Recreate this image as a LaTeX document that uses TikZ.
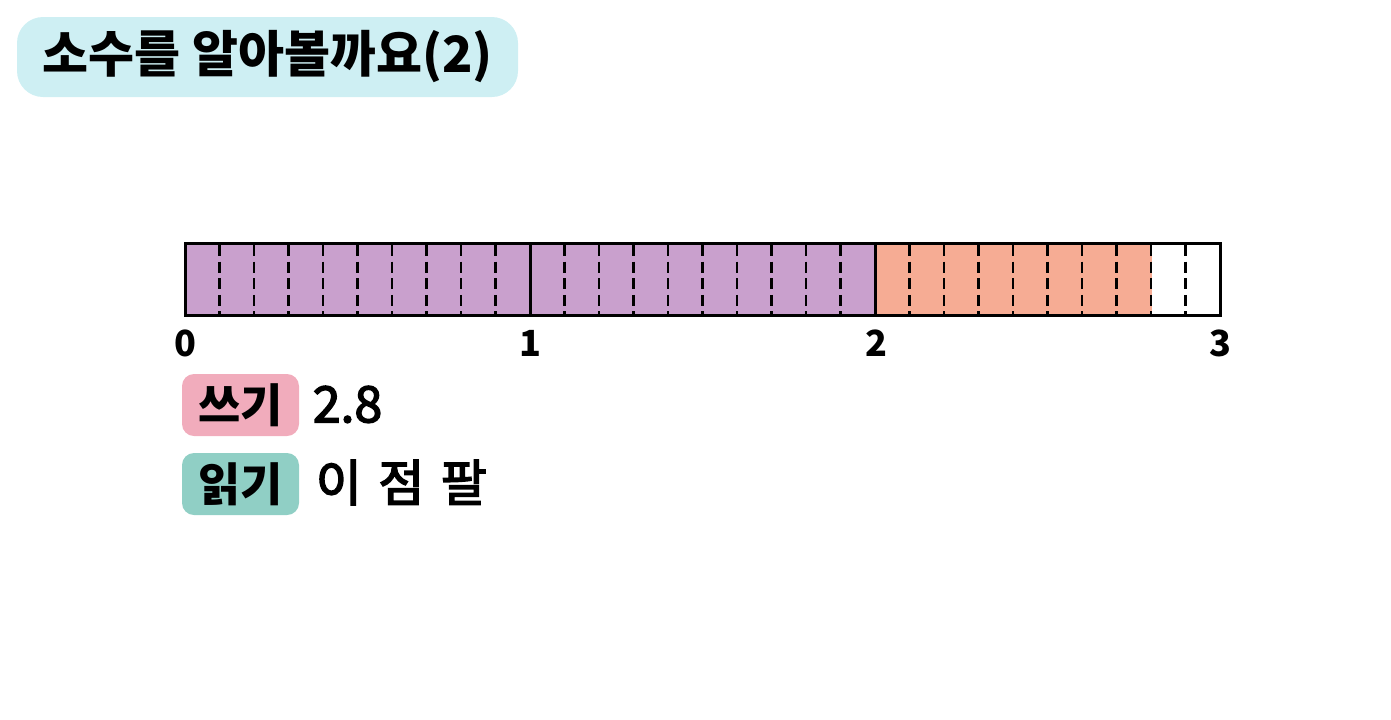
\documentclass[tikz,border=0pt]{standalone}
\usepackage{fontspec}
\newfontfamily\kr{Noto Sans CJK KR}
\newfontfamily\krmed[FakeBold=3]{Noto Sans CJK KR}
\definecolor{titlebg}{RGB}{206,239,243}
\definecolor{barpurple}{RGB}{201,160,205}
\definecolor{barorange}{RGB}{246,172,148}
\definecolor{writepink}{RGB}{241,172,188}
\definecolor{readteal}{RGB}{144,207,197}
\begin{document}
\begin{tikzpicture}[x=0.5pt,y=-0.5pt,
   tick/.style={font=\kr\bfseries\fontsize{18}{18}\selectfont},
   tag/.style={rounded corners=6pt, minimum width=58.5pt, minimum height=31pt,
      inner sep=0pt, font=\kr\bfseries\fontsize{23}{23}\selectfont},
   answer/.style={inner sep=0pt, anchor=base west, font=\krmed\fontsize{25}{25}\selectfont},
   tenth/.style={line width=1.4pt, dash pattern=on 5.5pt off 2.8pt, dash phase=-1pt}]
   \useasboundingbox (0,0) rectangle (1391,719);
   %% 수직선: 0에서 3까지, 한 칸은 0.1
   \node[fill=titlebg, rounded corners=13pt, minimum width=250.5pt, minimum height=40pt,
      inner sep=0pt, font=\kr\bfseries\fontsize{25}{25}\selectfont]
      (title) at (267.5,57) {소수를 알아볼까요(2)};
   
   \coordinate (Zero) at (185,243);
   \coordinate (One) at (530,243);
   \coordinate (Two) at (876,243);
   \coordinate (Three) at (1220,243);
   \coordinate (Mark) at (1152,315);
   \coordinate (End) at (1220,315);
   
   \fill[barpurple] (Zero) rectangle (Two |- End);
   \fill[barorange] (Two) rectangle (Mark);
   
   \foreach \i in {1,...,29}
   {
       \pgfmathtruncatemacro{\r}{mod(\i,10)}
       \ifnum\r=0
           \draw[line width=1.5pt] (185+\i*34.5,243) -- (185+\i*34.5,315);
       \else
           \draw[tenth] (185+\i*34.5,243) -- (185+\i*34.5,315);
       \fi
   }
   \draw[line width=1.5pt] (Zero) rectangle (End);
   
   \foreach \v/\t in
   { Zero/0,
       One/1,
       Two/2,
       Three/3
   }
   {
       \node[tick] at ([yshift=-50]\v) {\t};
   };
   
   \node[tag, fill=writepink] (write) at (240.5,405) {쓰기};
   \node[tag, fill=readteal] (read) at (240.5,484) {읽기};
   \node[answer] (writeans) at ([xshift=6.5pt]write.base east) {2.8};
   \node[answer] (readans) at ([xshift=8pt]read.base east) {이\hspace{0.33em}점\hspace{0.33em}팔};
   
\end{tikzpicture}
\end{document}
